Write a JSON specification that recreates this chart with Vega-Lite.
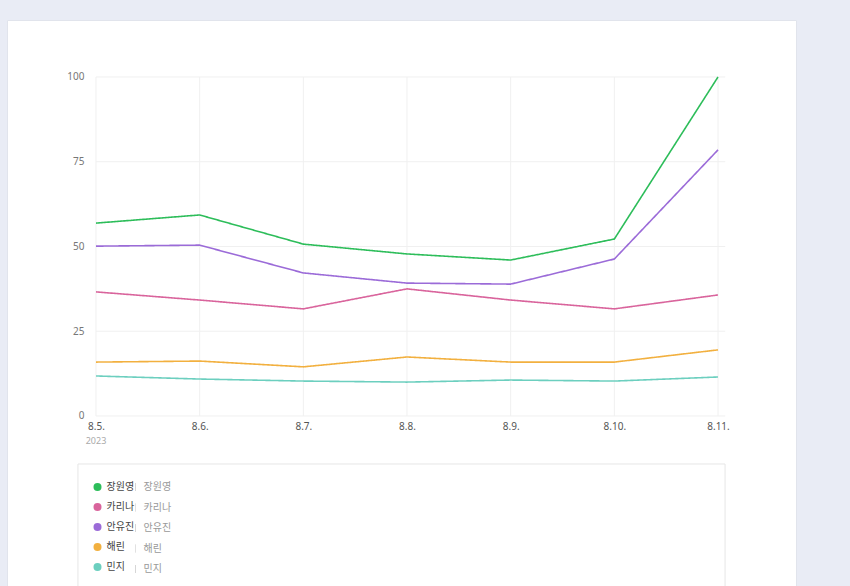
{
  "$schema": "https://vega.github.io/schema/vega-lite/v6.json",
  "autosize": "none",
  "width": 789,
  "height": 566,
  "padding": {"left": 7, "top": 20, "right": 54, "bottom": 0},
  "background": "#e9ecf5",
  "config": {
    "view": {"fill": "white", "stroke": "#e1e4ec"},
    "font": "Noto Sans"
  },
  "datasets": {
    "trend": [
      {"day": 5, "name": "장원영", "value": 56.9},
      {"day": 6, "name": "장원영", "value": 59.3},
      {"day": 7, "name": "장원영", "value": 50.7},
      {"day": 8, "name": "장원영", "value": 47.8},
      {"day": 9, "name": "장원영", "value": 46.0},
      {"day": 10, "name": "장원영", "value": 52.2},
      {"day": 11, "name": "장원영", "value": 100},
      {"day": 5, "name": "카리나", "value": 36.6},
      {"day": 6, "name": "카리나", "value": 34.2},
      {"day": 7, "name": "카리나", "value": 31.6},
      {"day": 8, "name": "카리나", "value": 37.5},
      {"day": 9, "name": "카리나", "value": 34.2},
      {"day": 10, "name": "카리나", "value": 31.6},
      {"day": 11, "name": "카리나", "value": 35.7},
      {"day": 5, "name": "안유진", "value": 50.1},
      {"day": 6, "name": "안유진", "value": 50.4},
      {"day": 7, "name": "안유진", "value": 42.2},
      {"day": 8, "name": "안유진", "value": 39.2},
      {"day": 9, "name": "안유진", "value": 38.9},
      {"day": 10, "name": "안유진", "value": 46.3},
      {"day": 11, "name": "안유진", "value": 78.5},
      {"day": 5, "name": "해린", "value": 15.9},
      {"day": 6, "name": "해린", "value": 16.2},
      {"day": 7, "name": "해린", "value": 14.5},
      {"day": 8, "name": "해린", "value": 17.4},
      {"day": 9, "name": "해린", "value": 15.9},
      {"day": 10, "name": "해린", "value": 15.9},
      {"day": 11, "name": "해린", "value": 19.5},
      {"day": 5, "name": "민지", "value": 11.8},
      {"day": 6, "name": "민지", "value": 10.9},
      {"day": 7, "name": "민지", "value": 10.3},
      {"day": 8, "name": "민지", "value": 10.0},
      {"day": 9, "name": "민지", "value": 10.6},
      {"day": 10, "name": "민지", "value": 10.3},
      {"day": 11, "name": "민지", "value": 11.5}
    ],
    "gridTicks": [{"tick": 0}, {"tick": 25}, {"tick": 50}, {"tick": 75}, {"tick": 100}],
    "one": [{"year": "2023"}]
  },
  "layer": [
    {
      "data": {"name": "gridTicks"},
      "mark": {"type": "rule", "color": "#f0f0f0", "strokeWidth": 1},
      "encoding": {
        "y": {"field": "tick", "type": "quantitative"},
        "x": {"datum": 5},
        "x2": {"datum": 11.07}
      }
    },
    {
      "data": {"name": "trend"},
      "transform": [{"filter": "datum.name === '장원영'"}],
      "mark": {"type": "rule", "color": "#f0f0f0", "strokeWidth": 1},
      "encoding": {
        "x": {"field": "day", "type": "quantitative"},
        "y": {"datum": 0},
        "y2": {"datum": 100}
      }
    },
    {
      "data": {"name": "one"},
      "mark": {"type": "rect", "fill": "white", "stroke": "#e6e6e6", "strokeWidth": 1},
      "encoding": {
        "x": {"datum": 4.826},
        "x2": {"datum": 11.068},
        "y": {"datum": -14.16},
        "y2": {"datum": -51}
      }
    },
    {
      "data": {"name": "trend"},
      "mark": {"type": "line", "strokeWidth": 1.6},
      "encoding": {
        "x": {
          "field": "day",
          "type": "quantitative",
          "scale": {"domain": [4.1415, 11.7524], "nice": false, "zero": false},
          "axis": {
            "orient": "bottom",
            "offset": -170,
            "values": [5, 6, 7, 8, 9, 10, 11],
            "labelExpr": "'8.' + datum.value + '.'",
            "domain": false,
            "ticks": false,
            "grid": false,
            "title": null,
            "labelFontSize": 10,
            "labelColor": "#555",
            "labelPadding": 5,
            "labelFlush": false,
            "labelOverlap": false
          }
        },
        "y": {
          "field": "value",
          "type": "quantitative",
          "scale": {"domain": [-50.15, 116.81], "nice": false, "zero": false},
          "axis": {
            "orient": "left",
            "offset": -80,
            "values": [0, 25, 50, 75, 100],
            "domain": false,
            "ticks": false,
            "grid": false,
            "title": null,
            "labelFontSize": 10,
            "labelColor": "#777",
            "labelPadding": 3,
            "labelFlush": false,
            "labelOverlap": false
          }
        },
        "color": {
          "field": "name",
          "type": "nominal",
          "scale": {
            "domain": ["장원영", "카리나", "안유진", "해린", "민지"],
            "range": ["#2dbd5a", "#d9649c", "#9b6bd8", "#f2b03f", "#6ccfbf"]
          },
          "legend": {
            "orient": "none",
            "legendX": 85.5,
            "legendY": 462,
            "title": null,
            "padding": 0,
            "symbolType": "circle",
            "symbolSize": 64,
            "symbolStrokeWidth": 0,
            "labelFont": "Noto Sans CJK KR",
            "labelFontSize": 10,
            "labelColor": "#444",
            "labelOffset": 4,
            "rowPadding": 10,
            "encode": {
              "symbols": {
                "update": {
                  "fill": {"scale": "color", "field": "value"},
                  "fillOpacity": {"value": 1},
                  "opacity": {"value": 1}
                }
              }
            }
          }
        },
        "strokeDash": {
          "field": "name",
          "type": "nominal",
          "scale": {
            "domain": ["장원영", "카리나", "안유진", "해린", "민지", " "],
            "range": [[1, 0], [1, 0], [1, 0], [1, 0], [1, 0], [1, 0]]
          },
          "legend": {
            "orient": "none",
            "legendX": 123.5,
            "legendY": 462,
            "title": null,
            "padding": 0,
            "values": ["장원영", "카리나", "안유진", "해린", "민지"],
            "symbolType": "M0,-1L0,1",
            "symbolSize": 64,
            "symbolStrokeWidth": 0,
            "labelFont": "Noto Sans CJK KR",
            "labelFontSize": 10,
            "labelColor": "#999",
            "labelOffset": 3,
            "rowPadding": 8.5,
            "encode": {
              "symbols": {
                "update": {
                  "stroke": {"value": "#d6d6d6"},
                  "strokeWidth": {"value": 1},
                  "fill": {"value": "transparent"},
                  "opacity": {"value": 1},
                  "strokeOpacity": {"value": 1},
                  "strokeDash": {"value": [1, 0]}
                }
              }
            }
          }
        }
      }
    },
    {
      "data": {"name": "one"},
      "mark": {"type": "text", "fontSize": 9, "color": "#aaa", "baseline": "middle", "align": "center"},
      "encoding": {
        "text": {"field": "year"},
        "x": {"datum": 5},
        "y": {"datum": -7.3}
      }
    }
  ]
}
